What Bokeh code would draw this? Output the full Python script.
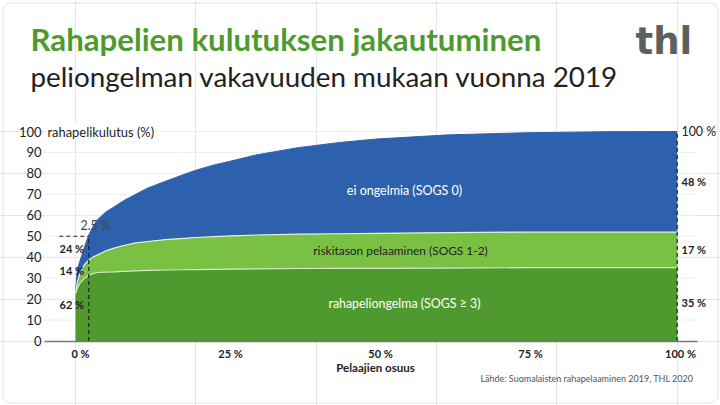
from bokeh.embed import file_html
from bokeh.resources import INLINE
from bokeh.plotting import figure
from bokeh.models import Range1d, LinearAxis, FixedTicker, Label, BoxAnnotation

# --- data -------------------------------------------------------------
players = [0,0.15,0.3,0.6,1,1.5,2.2,3,3.6,5,6.4,8,10,12,15,18,20,23,26,30,37,44,50,62,75,88,100]
top_curve = [23,29,33.7,37,40.5,45,50.6,55,57.7,61.5,64,67,70,73,76.3,79.5,81.5,84,86,88.8,92.3,94.8,96.4,98.4,99.4,99.9,100]
mid_curve = [23,25.5,28,31,34,36.5,38.6,40.2,41,43,44.3,45.6,46.8,47.5,48.4,49,49.4,49.8,50.2,50.6,51,51.2,51.4,51.7,52,52,52]
low_curve = [22.8,23.8,25,27,28.5,30,31.4,32.3,32.7,32.9,33,33.2,33.5,33.7,33.9,34,34.1,34.2,34.3,34.4,34.6,34.7,34.7,34.8,35,35,35]
zeros = [0] * len(players)
x_ticks = [0, 25, 50, 75, 100]
y_ticks = [0, 10, 20, 30, 40, 50, 60, 70, 80, 90, 100]
x_tick_labels = {t: f"{t} %" for t in x_ticks}
marker_x = [2.2, 2.2]
marker_y = [0, 50]
marker_hx = [-2.7, 2.2]
marker_hy = [50, 50]
end_x = [100, 100]
end_y = [0, 100]

FONT = "Lato"
W, H = 720, 405
L, R, T, B = 44, 697, 131, 340.5
X0, X100 = 75.0, 676.7
ppx = (X100 - X0) / 100
ppy = (B - T) / 100
xd = lambda px: (px - X0) / ppx
yd = lambda py: (B - py) / ppy
# tick labels use their own scale, they sit slightly off the data positions
lx = lambda px: (px - 80) / 6

p = figure(width=W, height=H, output_backend="svg", toolbar_location=None,
           x_range=Range1d(xd(0), xd(W)), y_range=Range1d(yd(H), yd(0)),
           x_axis_location=None, y_axis_location=None,
           min_border=0,
           background_fill_color="white", border_fill_color="white",
           outline_line_color=None)
p.styles = {"position": "absolute", "left": "0", "top": "0"}

p.add_layout(BoxAnnotation(left=xd(2.5), right=xd(717.5), top=yd(2.5), bottom=yd(402.5),
                           fill_alpha=0, line_color="#c4c4c4", line_width=1.5,
                           border_radius=8, level="underlay"))

p.extra_x_ranges["labels"] = Range1d(lx(0), lx(W))
xa = LinearAxis(x_range_name="labels", ticker=FixedTicker(ticks=x_ticks),
                major_label_overrides=x_tick_labels, fixed_location=0,
                bounds=(lx(L), lx(R)))
xa.major_tick_line_color = None
xa.minor_tick_line_color = None
xa.major_tick_out = 0
xa.minor_tick_out = 0
xa.axis_line_color = "#777777"
xa.axis_line_width = 1.5
xa.major_label_text_font = FONT
xa.major_label_text_font_size = "11px"
xa.major_label_text_font_style = "bold"
xa.major_label_text_color = "#222222"
xa.major_label_standoff = 6

ya = LinearAxis(ticker=FixedTicker(ticks=y_ticks), fixed_location=xd(L), bounds=(0, 100))
ya.major_tick_line_color = None
ya.minor_tick_line_color = None
ya.major_tick_out = 0
ya.minor_tick_out = 0
ya.axis_line_color = None
ya.major_label_text_font = FONT
ya.major_label_text_font_size = "13px"
ya.major_label_text_color = "#222222"
ya.major_label_standoff = 3
p.add_layout(ya, "left")
p.add_layout(xa, "below")

# --- horizontal guide lines, limited to the plot span
for t in y_ticks[1:]:
    p.line([xd(L), xd(R)], [t, t], line_color="#efefef", line_width=1)

# --- areas ------------------------------------------------------------
p.varea(players, mid_curve, top_curve, fill_color="#2e61ad")
p.varea(players, low_curve, mid_curve, fill_color="#7ac143")
p.varea(players, zeros, low_curve, fill_color="#4f9a2e")
p.line(players, top_curve, line_color="#2e61ad", line_width=1)
p.line(players, mid_curve, line_color="#e4efdc", line_width=1.2)
p.line(players, low_curve, line_color="#d5e8c8", line_width=1.2)

for xs, ys in ((marker_x, marker_y), (marker_hx, marker_hy), (end_x, end_y)):
    p.line(xs, ys, line_color="#222222", line_width=1.2, line_dash=[4, 3])


def txt(px, py, text, size, color="#222222", style="normal", align="left", bg=None, font=FONT):
    p.add_layout(Label(x=xd(px), y=yd(py), text=text, text_font=font, text_font_size=f"{size}px",
                       text_color=color, text_font_style=style, text_align=align,
                       text_baseline="middle", background_fill_color=bg))


txt(47, 131, "rahapelikulutus (%)", 12.9, bg="white")
txt(30, 38, "Rahapelien kulutuksen jakautuminen", 31.2, "#4f9a2e", "bold")
txt(30, 76, "peliongelman vakavuuden mukaan vuonna 2019", 27.8, "#222222")
txt(635, 41, "thl", 37, "#5f5f5f", "bold", font="DejaVu Sans")

txt(404, 190, "ei ongelmia (SOGS 0)", 12.5, "white", align="center")
txt(400, 250, "riskitason pelaaminen (SOGS 1-2)", 11.9, "#222222", align="center")
txt(404, 303, "rahapeliongelma (SOGS ≥ 3)", 12.4, "white", align="center")

txt(80, 225, "2.5 %", 12.4, "#444444")
txt(59, 248, "24 %", 11, style="bold")
txt(59, 270, "14 %", 11, style="bold")
txt(59, 304, "62 %", 11, style="bold")
txt(681, 131, "100 %", 12.4)
txt(681, 181, "48 %", 11, style="bold")
txt(681, 249, "17 %", 11, style="bold")
txt(681, 302, "35 %", 11, style="bold")
txt(375, 367, "Pelaajien osuus", 11.5, style="bold", align="center")
txt(693, 378, "Lähde: Suomalaisten rahapelaaminen 2019, THL 2020", 9, "#555555", align="right")

open("out.html", "w").write(file_html(p, INLINE))
